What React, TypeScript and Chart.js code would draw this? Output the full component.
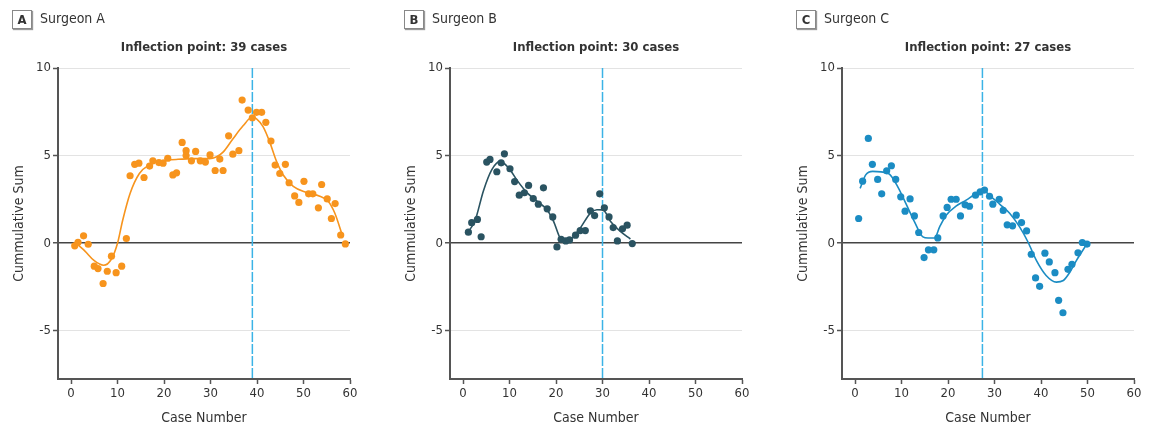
import React, { useEffect, useRef } from "react";
import { Chart, registerables } from "chart.js";
Chart.register(...registerables);

const FONT = "'Liberation Sans Narrow', 'DejaVu Sans Condensed', 'Open Sans', sans-serif";

// ---- Surgeon A ----
const caseA = [0.8, 1.5, 2.7, 3.7, 5.0, 5.8, 6.9, 7.8, 8.7, 9.7, 10.9, 11.9, 12.7, 13.7, 14.6, 15.7, 16.9, 17.6, 18.9, 19.8, 20.8, 21.9, 22.7, 23.9, 24.75, 24.75, 25.9, 26.8, 27.8, 28.9, 29.9, 31.0, 32.0, 32.7, 33.9, 34.8, 36.1, 36.8, 38.1, 39.0, 39.9, 41.0, 41.9, 43.0, 43.9, 44.9, 46.1, 46.9, 48.1, 49.0, 50.1, 51.1, 52.0, 53.2, 53.9, 55.1, 56.0, 56.8, 58.0, 59.0];
const sumA = [-0.15, 0.05, 0.42, -0.06, -1.31, -1.45, -2.3, -1.6, -0.74, -1.68, -1.31, 0.27, 3.85, 4.5, 4.57, 3.75, 4.4, 4.7, 4.6, 4.57, 4.85, 3.9, 4.02, 5.75, 5.28, 5.0, 4.7, 5.24, 4.7, 4.63, 5.04, 4.15, 4.8, 4.15, 6.13, 5.08, 5.28, 8.17, 7.6, 7.16, 7.47, 7.47, 6.9, 5.83, 4.46, 3.98, 4.5, 3.45, 2.7, 2.33, 3.53, 2.82, 2.82, 2.02, 3.35, 2.53, 1.41, 2.26, 0.47, -0.04];
const fitCaseA = [1.5, 3, 5, 7, 8.7, 10, 11.1, 12.7, 14.7, 16.8, 19, 22.6, 26.2, 29.8, 31.2, 32.7, 34.8, 37.0, 39.0, 39.9, 41.3, 42.7, 44.2, 45.6, 47.8, 50.6, 53.5, 55.3, 56.7, 58.3];
const fitSumA = [-0.1, -0.45, -1.0, -1.26, -0.9, 0.0, 1.3, 2.84, 3.98, 4.46, 4.69, 4.78, 4.83, 4.83, 4.92, 5.2, 5.95, 6.7, 7.2, 7.1, 6.65, 5.8, 4.67, 3.91, 3.25, 2.9, 2.68, 2.4, 1.74, 0.5];
const inflectionA = 39;

// ---- Surgeon B ----
const caseB = [1.15, 1.87, 3.1, 3.9, 5.1, 5.8, 7.27, 8.2, 8.9, 10.1, 11.1, 12.1, 13.2, 14.1, 15.1, 16.2, 17.3, 18.1, 19.3, 20.2, 21.1, 22.1, 22.9, 24.2, 25.2, 26.3, 27.4, 28.3, 29.4, 30.4, 31.4, 32.3, 33.2, 34.3, 35.3, 36.4];
const sumB = [0.63, 1.17, 1.36, 0.37, 4.63, 4.78, 4.08, 4.59, 5.1, 4.25, 3.52, 2.74, 2.88, 3.3, 2.55, 2.23, 3.16, 1.96, 1.5, -0.21, 0.22, 0.13, 0.19, 0.46, 0.72, 0.72, 1.85, 1.58, 2.82, 2.02, 1.5, 0.89, 0.13, 0.82, 1.03, -0.02];
const fitCaseB = [1, 2.6, 4.4, 6.2, 8.0, 9.8, 11.6, 13.7, 15.9, 18.1, 19.5, 20.9, 22.0, 23.1, 25.2, 27.4, 28.8, 30.1, 31.7, 33.9, 36.0];
const fitSumB = [0.6, 1.3, 3.0, 4.2, 4.67, 4.3, 3.6, 2.9, 2.4, 1.9, 1.23, 0.28, 0.09, 0.2, 0.86, 1.72, 1.91, 1.9, 1.25, 0.66, 0.24];
const inflectionB = 30;

// ---- Surgeon C ----
const caseC = [0.78, 1.64, 2.86, 3.73, 4.87, 5.74, 6.81, 7.82, 8.75, 9.83, 10.76, 11.84, 12.77, 13.7, 14.85, 15.79, 16.94, 17.8, 18.95, 19.81, 20.67, 21.75, 22.68, 23.68, 24.62, 25.91, 26.92, 27.85, 28.93, 29.64, 31.01, 31.87, 32.73, 33.88, 34.67, 35.82, 36.9, 37.9, 38.83, 39.7, 40.84, 41.78, 43.0, 43.79, 44.72, 45.8, 46.66, 47.95, 48.88, 49.89];
const sumC = [1.41, 3.54, 5.98, 4.5, 3.64, 2.82, 4.13, 4.42, 3.64, 2.65, 1.83, 2.53, 1.56, 0.61, -0.82, -0.38, -0.38, 0.3, 1.56, 2.04, 2.51, 2.51, 1.56, 2.19, 2.11, 2.74, 2.93, 3.03, 2.68, 2.23, 2.51, 1.87, 1.05, 0.99, 1.6, 1.18, 0.7, -0.63, -1.98, -2.46, -0.57, -1.07, -1.68, -3.26, -3.97, -1.49, -1.2, -0.55, 0.04, -0.05];
const fitCaseC = [1.1, 2.3, 3.8, 5.6, 7.4, 9.2, 11.0, 12.8, 14.6, 15.7, 17.1, 18.2, 19.6, 21.8, 23.9, 26.1, 27.5, 29.3, 31.1, 33.3, 35.4, 37.2, 39.0, 41.1, 43.3, 44.8, 46.2, 47.6, 49.8];
const fitSumC = [3.13, 3.9, 4.1, 4.07, 3.94, 3.22, 2.23, 1.22, 0.36, 0.3, 0.3, 0.93, 1.6, 2.13, 2.46, 2.84, 3.0, 2.65, 2.23, 1.7, 0.93, 0.07, -0.98, -1.84, -2.22, -2.13, -1.66, -0.99, -0.07];
const inflectionC = 27.4;

const xTicks = [0, 10, 20, 30, 40, 50, 60];
const yTicks = [-5, 0, 5, 10];

interface PanelProps {
  letter: string;
  name: string;
  title: string;
  xs: number[];
  ys: number[];
  fx: number[];
  fy: number[];
  infl: number;
  color: string;
  left: number;
}

function Panel(p: PanelProps) {
  const ref = useRef<HTMLCanvasElement>(null);
  useEffect(() => {
    if (!ref.current) return;
    const pts = p.xs.map((x, i) => ({ x, y: p.ys[i] }));
    const fit = p.fx.map((x, i) => ({ x, y: p.fy[i] }));
    const overlay = {
      id: "overlay",
      beforeDatasetsDraw(chart: any) {
        const { ctx, chartArea, scales } = chart;
        const x = scales.x.getPixelForValue(p.infl);
        ctx.save();
        ctx.strokeStyle = "#3bb3e6";
        ctx.lineWidth = 1.5;
        ctx.setLineDash([10, 2]);
        ctx.beginPath();
        ctx.moveTo(x, chartArea.top);
        ctx.lineTo(x, chartArea.bottom);
        ctx.stroke();
        ctx.restore();
      },
      afterDraw(chart: any) {
        const { ctx, chartArea } = chart;
        ctx.save();
        ctx.fillStyle = "#333";
        ctx.font = `bold 13px ${FONT}`;
        ctx.textAlign = "center";
        ctx.textBaseline = "middle";
        ctx.fillText(p.title, (chartArea.left + chartArea.right) / 2, 48);
        ctx.restore();
      },
    };
    const chart = new Chart(ref.current, {
      type: "scatter",
      data: {
        datasets: [
          {
            type: "line",
            data: fit,
            borderColor: p.color,
            borderWidth: 1.6,
            pointRadius: 0,
            cubicInterpolationMode: "monotone",
            fill: false,
            order: 0,
          } as any,
          {
            type: "scatter",
            data: pts,
            backgroundColor: p.color,
            borderColor: p.color,
            borderWidth: 0,
            pointRadius: 3.6,
            order: 1,
          },
        ],
      },
      options: {
        responsive: false,
        animation: false,
        layout: { padding: { top: 68, right: 19, bottom: 0, left: 0 } },
        plugins: { legend: { display: false }, tooltip: { enabled: false } },
        scales: {
          x: {
            type: "linear",
            min: -2.8,
            max: 60,
            afterBuildTicks: (s: any) => {
              s.ticks = xTicks.map((v) => ({ value: v }));
            },
            afterFit: (s: any) => {
              s.height = 53;
            },
            grid: { drawOnChartArea: false, drawTicks: true, tickLength: 5, tickColor: "#555", tickWidth: 1.5 },
            border: { display: true, color: "#555", width: 2 },
            ticks: { color: "#333", font: { family: FONT, size: 13 }, padding: 2, maxRotation: 0, autoSkip: false },
            title: { display: true, text: "Case Number", color: "#333", font: { family: FONT, size: 14 }, padding: { top: 0, bottom: 5 } },
          },
          y: {
            type: "linear",
            min: -7.75,
            max: 10,
            afterBuildTicks: (s: any) => {
              s.ticks = yTicks.map((v) => ({ value: v }));
            },
            afterFit: (s: any) => {
              s.width = 58;
            },
            grid: {
              color: (c: any) => (c.tick && c.tick.value === 0 ? "#444" : "#e3e3e3"),
              lineWidth: (c: any) => (c.tick && c.tick.value === 0 ? 1.5 : 1),
              drawTicks: true,
              tickLength: 5,
              tickColor: "#555",
              tickWidth: 1.5,
            },
            border: { display: true, color: "#555", width: 2 },
            ticks: { color: "#333", font: { family: FONT, size: 13 }, padding: 2 },
            title: { display: true, text: "Cummulative Sum", color: "#333", font: { family: FONT, size: 14 }, padding: { top: 11, bottom: 0 } },
          },
        },
      },
      plugins: [overlay],
    });
    return () => chart.destroy();
  }, []);

  return (
    <div style={{ position: "absolute", left: p.left, top: 0, width: 369, height: 432 }}>
      <canvas ref={ref} width={369} height={432} style={{ display: "block", position: "absolute", left: 0, top: 0 }} />
      <div
        style={{
          position: "absolute",
          left: 12,
          top: 10,
          width: 18,
          height: 17,
          border: "1px solid #888",
          boxShadow: "1px 1px 1px #999",
          fontFamily: FONT,
          fontWeight: "bold",
          fontSize: 13,
          lineHeight: "17px",
          textAlign: "center",
          color: "#333",
        }}
      >
        {p.letter}
      </div>
      <div
        style={{
          position: "absolute",
          left: 40,
          top: 9,
          fontFamily: FONT,
          fontSize: 14,
          lineHeight: "19px",
          color: "#333",
          whiteSpace: "nowrap",
        }}
      >
        {p.name}
      </div>
    </div>
  );
}

export default function App() {
  return (
    <div style={{ position: "absolute", left: 0, top: 0, width: 1153, height: 432, background: "#fff", overflow: "hidden" }}>
      <Panel letter="A" name="Surgeon A" title="Inflection point: 39 cases" xs={caseA} ys={sumA} fx={fitCaseA} fy={fitSumA} infl={inflectionA} color="#f7941d" left={0} />
      <Panel letter="B" name="Surgeon B" title="Inflection point: 30 cases" xs={caseB} ys={sumB} fx={fitCaseB} fy={fitSumB} infl={inflectionB} color="#2a5361" left={392} />
      <Panel letter="C" name="Surgeon C" title="Inflection point: 27 cases" xs={caseC} ys={sumC} fx={fitCaseC} fy={fitSumC} infl={inflectionC} color="#1b8cc3" left={784} />
    </div>
  );
}
